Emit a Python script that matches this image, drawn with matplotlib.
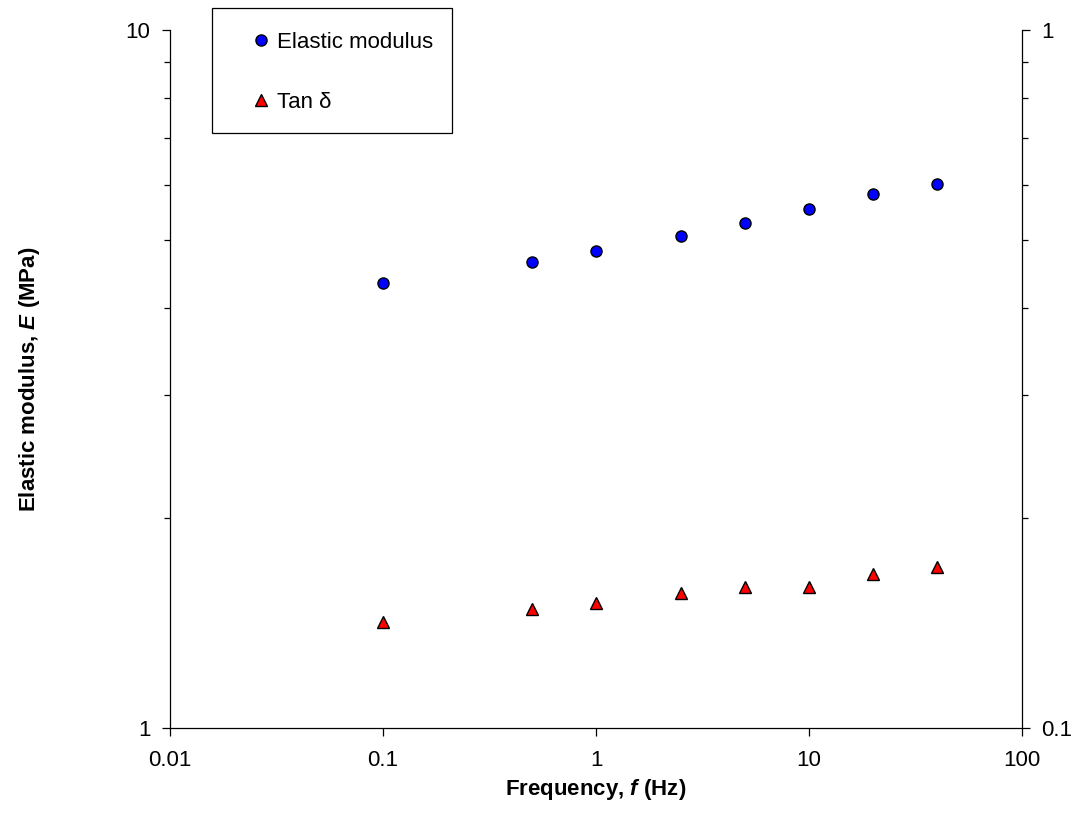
import matplotlib
matplotlib.use("Agg")
import matplotlib.pyplot as plt
from matplotlib.patches import Rectangle
from matplotlib.ticker import LogLocator, FixedLocator, FixedFormatter, NullFormatter

plt.rcParams['font.family'] = ['Liberation Sans', 'DejaVu Sans']
plt.rcParams['mathtext.fontset'] = 'custom'
plt.rcParams['mathtext.bfit'] = 'Liberation Sans:bold:italic'
plt.rcParams['mathtext.it'] = 'Liberation Sans:italic'
plt.rcParams['mathtext.rm'] = 'Liberation Sans'

# data
frequency = [0.1, 0.5, 1, 2.5, 5, 10, 20, 40]
elastic_modulus = [4.34, 4.65, 4.82, 5.07, 5.29, 5.54, 5.82, 6.02]
tan_delta = [0.142, 0.148, 0.151, 0.156, 0.159, 0.159, 0.166, 0.170]

x_ticks = [0.01, 0.1, 1, 10, 100]
x_tick_labels = ["0.01", "0.1", "1", "10", "100"]

W, H = 1083, 830
fig = plt.figure(figsize=(W / 100, H / 100), dpi=100)
ax = fig.add_axes([170 / W, 1 - 728 / H, (1022 - 170) / W, (728 - 30) / H])
ax2 = ax.twinx()

lw = 0.9
p1, = ax.plot(frequency, elastic_modulus, "o", ms=8, mfc="#0000ff", mec="black", mew=1,
              label="Elastic modulus", clip_on=False)
p2, = ax2.plot(frequency, tan_delta, "^", ms=9, mfc="#ff0000", mec="black", mew=1,
               label="Tan δ", clip_on=False)

ax.set_xscale("log")
ax.set_yscale("log")
ax2.set_yscale("log")
ax.set_xlim(0.01, 100)
ax.set_ylim(1, 10)
ax2.set_ylim(0.1, 1)

ax.xaxis.set_major_locator(FixedLocator(x_ticks))
ax.xaxis.set_major_formatter(FixedFormatter(x_tick_labels))
ax.xaxis.set_minor_locator(FixedLocator([]))

ax.yaxis.set_major_locator(FixedLocator([1, 10]))
ax.yaxis.set_major_formatter(FixedFormatter(["1", "10"]))
ax.yaxis.set_minor_locator(LogLocator(base=10, subs=range(2, 10)))
ax.yaxis.set_minor_formatter(NullFormatter())

ax2.yaxis.set_major_locator(FixedLocator([0.1, 1]))
ax2.yaxis.set_major_formatter(FixedFormatter(["0.1", "1"]))
ax2.yaxis.set_minor_locator(LogLocator(base=10, subs=range(2, 10)))
ax2.yaxis.set_minor_formatter(NullFormatter())

for a in (ax, ax2):
    a.spines["top"].set_visible(False)
    for s in a.spines.values():
        s.set_linewidth(lw)
    a.tick_params(which="major", length=6, width=lw, labelsize=16, pad=8)
    a.tick_params(which="minor", length=4.5, width=lw)
ax.spines["right"].set_visible(False)
ax2.spines["left"].set_visible(False)
ax2.spines["bottom"].set_visible(False)
ax.tick_params(axis="x", pad=10)

ax.set_xlabel("Frequency, $\\mathbfit{f}$ (Hz)", fontsize=16, fontweight="bold", labelpad=4)
ax.set_ylabel("Elastic modulus, $\\mathbfit{E}$ (MPa)", fontsize=16, fontweight="bold", labelpad=60)

# legend box
fig.patches.append(Rectangle((212 / W, 1 - 133 / H), 240 / W, 125 / H, transform=fig.transFigure,
                             fill=False, edgecolor="black", linewidth=lw))
fig.legend([p1, p2], ["Elastic modulus", "Tan δ"], loc="upper left",
           bbox_to_anchor=(250 / W, 1 - 32 / H), frameon=False, fontsize=16,
           handlelength=1.0, handletextpad=0.2, labelspacing=1.75, borderaxespad=0, borderpad=0)

fig.savefig("out.png", dpi=100)
